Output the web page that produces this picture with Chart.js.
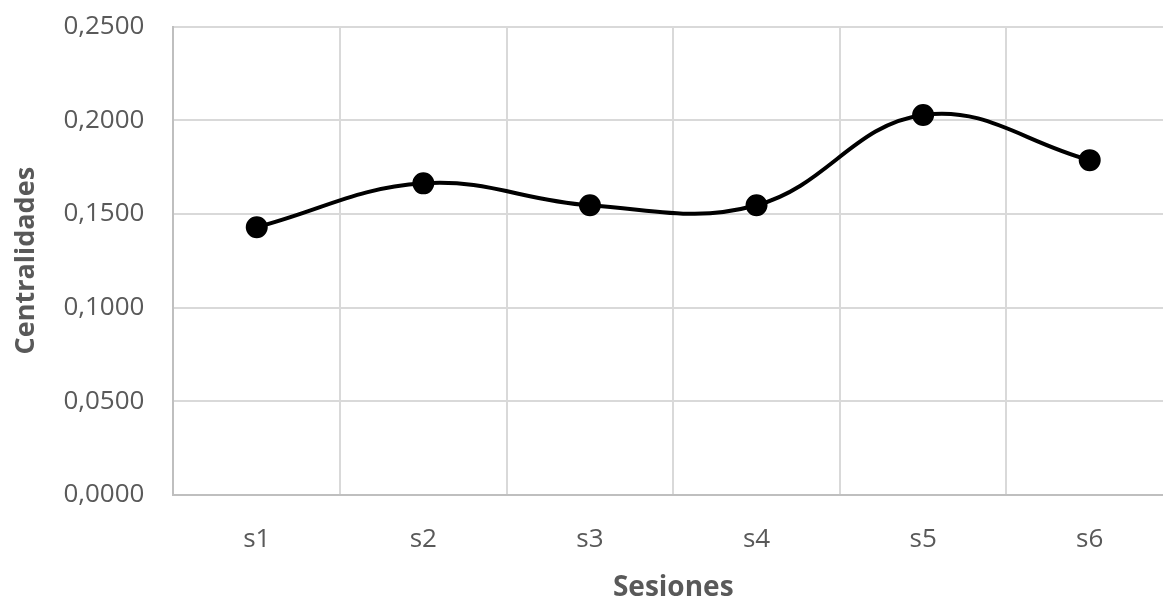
<!DOCTYPE html>
<html>
<head>
<meta charset="utf-8">
<script src="https://cdn.jsdelivr.net/npm/chart.js@4"></script>
<style>
  html, body { margin: 0; padding: 0; background: #fff; overflow: hidden; }
  #wrap { width: 1186px; height: 598px; }
</style>
</head>
<body>
<div id="wrap"><canvas id="myChart" width="1186" height="598"></canvas></div>
<script>
// sessions and their centrality values
const sesiones = ["s1", "s2", "s3", "s4", "s5", "s6"];
const centralidades = [0.1429, 0.1663, 0.1546, 0.1546, 0.2028, 0.1787];
const yTicks = [0, 0.05, 0.1, 0.15, 0.2, 0.25];

const fontFam = "'Open Sans', 'Liberation Sans', sans-serif";
const hidden = 'rgba(0,0,0,0)';

const chart = () => {
  var ctx = document.getElementById('myChart').getContext('2d');
  new Chart(ctx, {
    type: 'line',
    data: {
      labels: sesiones,
      datasets: [{
        data: centralidades,
        borderColor: '#000',
        backgroundColor: '#000',
        borderWidth: 4,
        tension: 0.4,
        pointRadius: 9,
        pointHoverRadius: 9
      }]
    },
    options: {
      responsive: false,
      animation: false,
      layout: { padding: { top: 0, left: 6, right: 0, bottom: 0 } },
      plugins: { legend: { display: false }, tooltip: { enabled: false } },
      scales: {
        x: {
          offset: true,
          // invisible tick marks used as spacing between axis and labels
          grid: { offset: true, color: '#d9d9d9', lineWidth: 2, drawTicks: true, tickLength: 27, tickColor: hidden },
          border: { color: '#bfbfbf', width: 2 },
          ticks: { color: '#595959', font: { family: fontFam, size: 26 }, padding: 2 },
          title: { display: true, text: 'Sesiones', color: '#595959', font: { family: fontFam, size: 28, weight: 'bold', lineHeight: 1 }, padding: { top: 17, bottom: -4 } }
        },
        y: {
          min: 0,
          max: 0.25,
          afterBuildTicks: (axis) => { axis.ticks = yTicks.map(v => ({ value: v })); },
          grid: { color: '#d9d9d9', lineWidth: 2, drawTicks: true, tickLength: 18, tickColor: hidden },
          border: { color: '#bfbfbf', width: 2 },
          ticks: {
            color: '#595959',
            font: { family: fontFam, size: 26 },
            padding: 11,
            callback: (v) => v.toFixed(4).replace('.', ',')
          },
          title: { display: true, text: 'Centralidades', color: '#595959', font: { family: fontFam, size: 27, weight: 'bold' }, padding: { top: 4, bottom: 10 } }
        }
      }
    }
  });
};
window.onload = chart();
</script>
</body>
</html>
